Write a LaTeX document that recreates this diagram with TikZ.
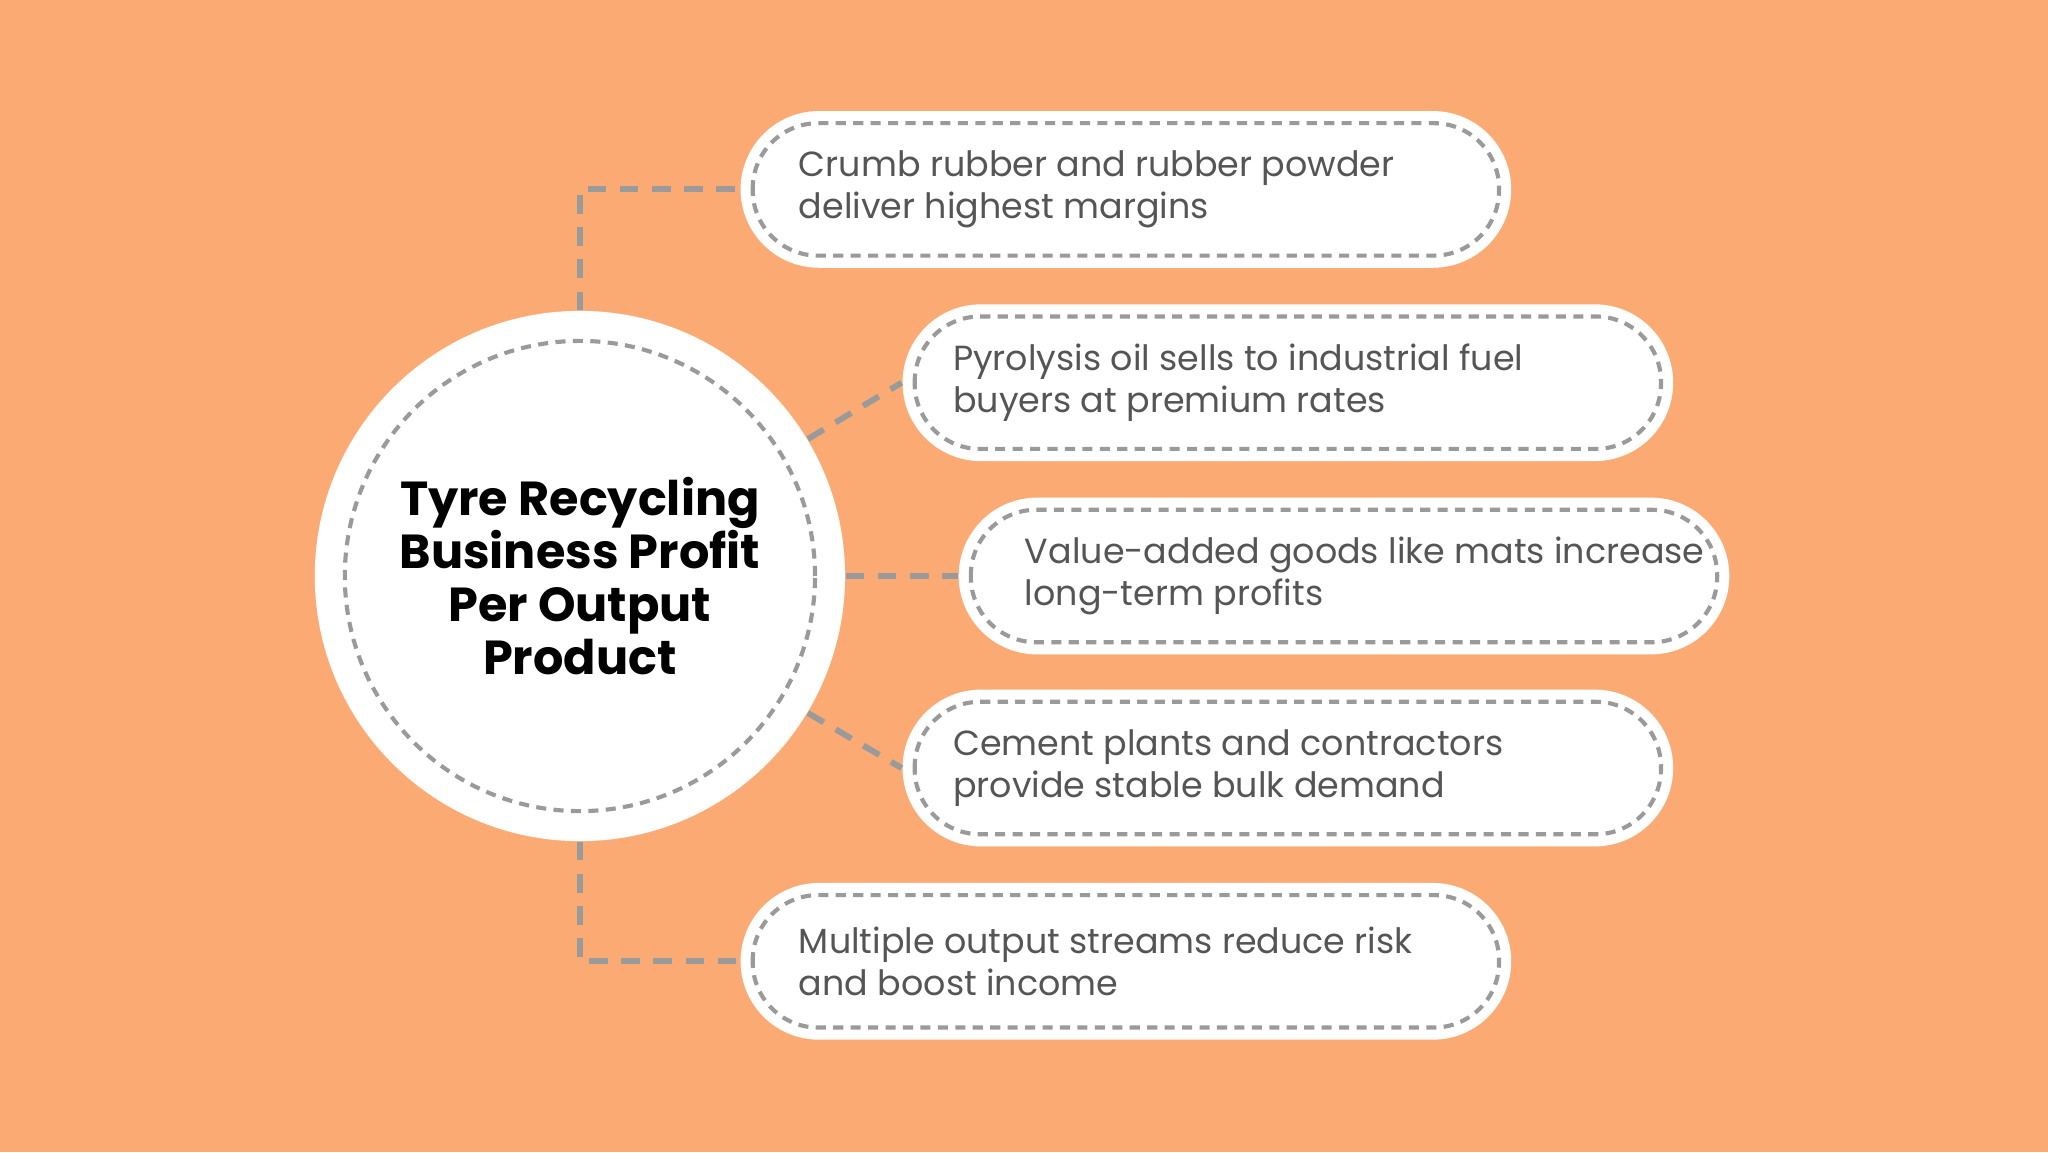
\documentclass[tikz,border=0pt]{standalone}
\usepackage{fontspec}
\setmainfont{Poppins}
\usetikzlibrary{calc}
\definecolor{bgorange}{HTML}{FBAA74}
\definecolor{dashgray}{HTML}{9A9A9A}
\definecolor{txtgray}{HTML}{555555}
\begin{document}
\begin{tikzpicture}[
        x=1cm, y=1cm,
        link/.style={draw=dashgray, line width=1.3pt, dash pattern=on 4pt off 3pt},
        pill/.style={fill=white, minimum width=5.9cm, minimum height=1.2cm, rounded corners=0.6cm, inner sep=0pt},
        inner/.style={draw=dashgray, line width=0.9pt, dash pattern=on 2.2pt off 1.6pt, rounded corners=0.5cm},
        lbl/.style={anchor=west, align=left, text=txtgray, font=\fontsize{7.6}{9.1}\selectfont}
      ]

      % background
      \fill[bgorange] (0,0) rectangle (15.68,8.82);

      % centre circle
      \node[circle, fill=white, minimum size=4.06cm, inner sep=0pt] (hub) at (4.44,4.41) {};
      \draw[inner] (hub.center) circle (1.8cm);
      \node[align=center, font=\fontsize{10.4}{11.6}\selectfont\bfseries] at (hub.center)
        {Tyre Recycling\\Business Profit\\Per Output\\Product};

      % boxes
      \node[pill] (b1) at (8.62,7.37) {};
      \node[pill] (b2) at (9.86,5.89) {};
      \node[pill] (b3) at (10.29,4.41) {};
      \node[pill] (b4) at (9.86,2.94) {};
      \node[pill] (b5) at (8.62,1.46) {};

      \foreach \b in {b1,b2,b3,b4,b5}
        \draw[inner] ($(\b.south west)+(0.1,0.1)$) rectangle ($(\b.north east)-(0.1,0.1)$);

      \node[lbl] at ($(b1.west)+(0.33,0)$) {Crumb rubber and rubber powder\\deliver highest margins};
      \node[lbl] at ($(b2.west)+(0.27,0)$) {Pyrolysis oil sells to industrial fuel\\buyers at premium rates};
      \node[lbl] at ($(b3.west)+(0.39,0)$) {Value-added goods like mats increase\\long-term profits};
      \node[lbl] at ($(b4.west)+(0.27,0)$) {Cement plants and contractors\\provide stable bulk demand};
      \node[lbl] at ($(b5.west)+(0.33,0)$) {Multiple output streams reduce risk\\and boost income};

      % connectors
      \draw[link] (hub.north) |- (b1.west);
      \draw[link] (hub.31) -- (b2.west);
      \draw[link] (hub.east) -- (b3.west);
      \draw[link] (hub.-31) -- (b4.west);
      \draw[link] (hub.south) |- (b5.west);

    \end{tikzpicture}
\end{document}
